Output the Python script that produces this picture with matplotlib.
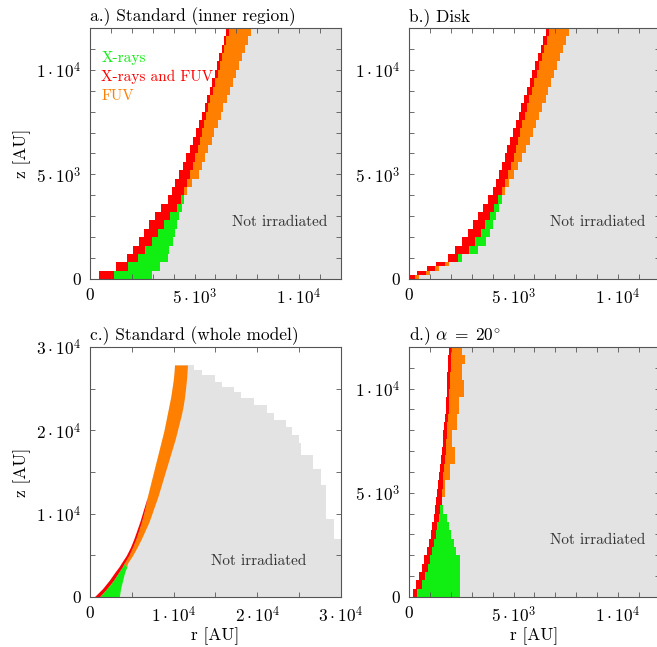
import numpy as np
import matplotlib

matplotlib.use("Agg")
import matplotlib.pyplot as plt
from matplotlib.ticker import MultipleLocator, FuncFormatter

plt.rcParams["font.family"] = "cmr10"
plt.rcParams["mathtext.fontset"] = "cm"
plt.rcParams["axes.unicode_minus"] = False
plt.rcParams["axes.formatter.use_mathtext"] = True

COLORS = {
    "xray": "#11ee11",
    "both": "#ff0000",
    "fuv": "#ff7f00",
    "dark": "#e3e3e3",
    "spine": "#555555",
    "text": "#333333",
}

# ---- a.) Standard (inner region): rows of 400 AU in z ----
a_z = np.arange(0, 12001, 400)
a_r_in = [450, 1250, 1750, 2060, 2330, 2590, 2840, 3100, 3380, 3720,
          3900, 4080, 4250, 4430, 4600, 4780, 4940, 5080, 5210, 5350,
          5480, 5610, 5740, 5850, 5960, 6070, 6180, 6290, 6400, 6510]
a_r_red = [1150, 1800, 2310, 2650, 2960, 3260, 3550, 3830, 4150, 4370,
           4500, 4650, 4785, 4920, 5040, 5150, 5260, 5360, 5460, 5560,
           5660, 5760, 5900, 6000, 6100, 6200, 6310, 6410, 6520, 6640]
a_r_xray = [2950, 3330, 3730, 3800, 3950, 4050, 4150, 4250, 4400, 4480,
            4500, 4650, 4785, 4920, 5040, 5150, 5260, 5360, 5460, 5560,
            5660, 5760, 5900, 6000, 6100, 6200, 6310, 6410, 6520, 6640]
a_r_fuv = [2950, 3330, 3730, 3800, 3950, 4050, 4150, 4250, 4400, 4480,
           4650, 4900, 5230, 5370, 5520, 5660, 5810, 5950, 6100, 6240,
           6380, 6530, 6670, 6820, 6960, 7100, 7250, 7390, 7540, 7680]

# ---- b.) Disk: finer rows near the midplane ----
b_z = np.array([0, 200, 400, 600] + list(range(800, 12001, 400)))
b_r_in = [0, 400, 850, 1300, 1850, 2200, 2520, 2800, 3050, 3300,
          3550, 3800, 4000, 4170, 4300, 4450, 4580, 4710, 4840, 4970,
          5100, 5240, 5370, 5500, 5640, 5770, 5900, 6030, 6170, 6300,
          6430, 6560]
b_r_red = [300, 800, 1250, 1700, 2350, 2850, 3150, 3430, 3650, 3850,
           4050, 4280, 4450, 4600, 4750, 4880, 5000, 5100, 5200, 5310,
           5420, 5530, 5640, 5760, 5880, 6000, 6110, 6230, 6350, 6460,
           6580, 6700]
b_r_xray = [300, 800, 1250, 1700, 2550, 3300, 3700, 3850, 4000, 4150,
            4300, 4450, 4450, 4600, 4750, 4880, 5000, 5100, 5200, 5310,
            5420, 5530, 5640, 5760, 5880, 6000, 6110, 6230, 6350, 6460,
            6580, 6700]
b_r_fuv = [500, 1000, 1450, 1900, 2550, 3300, 3700, 3850, 4000, 4150,
           4300, 4450, 4600, 4800, 5000, 5220, 5420, 5600, 5770, 5930,
           6080, 6230, 6380, 6530, 6670, 6810, 6950, 7090, 7230, 7370,
           7500, 7640]

# ---- c.) Standard (whole model) ----
# band boundaries sampled at these heights
c_z = [0, 1000, 2000, 3000, 3600, 4000, 5000, 6000, 7000, 8000,
       9000, 10000, 11000, 12000, 13000, 14000, 15000, 16000, 17000, 18000,
       19000, 20000, 21000, 22000, 23000, 24000, 25000, 26000, 27000, 27840]
c_r_in = [500, 1500, 2300, 3000, 3450, 3700, 4350, 4850, 5250, 5600,
          5950, 6250, 6550, 6850, 7100, 7350, 7600, 7850, 8100, 8350,
          8600, 8850, 9050, 9250, 9450, 9650, 9800, 9950, 10050, 10100]
c_r_red = [1100, 2000, 2800, 3450, 3850, 4050, 4650, 5100, 5500, 5830,
           6150, 6420, 6650, 6850, 7100, 7350, 7600, 7850, 8100, 8350,
           8600, 8850, 9050, 9250, 9450, 9650, 9800, 9950, 10050, 10100]
c_r_xray = [3500, 3650, 3900, 4150, 4400, 4050, 4650, 5100, 5500, 5830,
            6150, 6420, 6650, 6850, 7100, 7350, 7600, 7850, 8100, 8350,
            8600, 8850, 9050, 9250, 9450, 9650, 9800, 9950, 10050, 10100]
c_r_fuv = [3500, 3650, 3900, 4150, 4400, 4450, 5100, 5650, 6150, 6600,
           7050, 7400, 7750, 8100, 8400, 8700, 9000, 9300, 9600, 9900,
           10200, 10450, 10700, 10950, 11150, 11300, 11420, 11520, 11600, 11650]
# outer edge of the model grid (rows between these heights)
c_edge_z = [0, 6960, 9400, 13400, 15400, 17000, 18440, 19440, 20440, 21240,
            22040, 23040, 23840, 24640, 25240, 25840, 26640, 27240, 27840]
c_r_edge = [31000, 29200, 28200, 27600, 26600, 25200, 25000, 24200, 23400,
            22000, 21200, 19600, 18000, 17200, 15800, 15000, 13400, 12400]

# ---- d.) alpha = 20 deg: rows of 400 AU ----
d_z = np.arange(0, 12001, 400)
d_r_in = [180, 340, 480, 600, 730, 850, 950, 1030, 1110, 1180,
          1240, 1300, 1350, 1400, 1450, 1500, 1540, 1580, 1620, 1650,
          1690, 1720, 1750, 1780, 1800, 1820, 1840, 1860, 1880, 1890]
d_r_red = [400, 620, 760, 890, 1000, 1090, 1180, 1270, 1350, 1420,
           1500, 1560, 1590, 1610, 1650, 1690, 1720, 1750, 1780, 1810,
           1840, 1860, 1890, 1910, 1930, 1950, 1970, 1990, 2000, 2020]
d_r_xray = [2450, 2450, 2450, 2450, 2450, 2260, 2130, 2000, 1890, 1800,
            1620, 1560, 1590, 1610, 1650, 1690, 1720, 1750, 1780, 1810,
            1840, 1860, 1890, 1910, 1930, 1950, 1970, 1990, 2000, 2020]
d_r_fuv = [2450, 2450, 2450, 2450, 2450, 2260, 2130, 2000, 1890, 1800,
           1620, 1560, 1730, 1730, 1970, 1970, 2210, 2210, 2050, 2050,
           2290, 2290, 2370, 2370, 2610, 2610, 2530, 2530, 2690, 2530]

TITLES = ["a.) Standard (inner region)", "b.) Disk",
          "c.) Standard (whole model)", r"d.) $\alpha\;=\;20^{\circ}$"]
LEGEND = [("X-rays", "xray"), ("X-rays and FUV", "both"), ("FUV", "fuv")]
LABEL_POS = [(0.757, 0.227), (0.753, 0.227), (0.673, 0.144), (0.753, 0.228)]


def sci_label(v, pos):
    if abs(v) < 1e-9:
        return r"$0$"
    if v < 0:
        return ""
    e = int(np.floor(np.log10(v) + 1e-9))
    m = v / 10**e
    return r"$%g\cdot 10^{%d}$" % (m, e)


def ext(a):
    a = np.asarray(a, dtype=float)
    return np.append(a, a[-1])


def draw_rows(ax, z, r_in, r_red, r_xray, r_fuv):
    """Cell rows: grey beyond the bands, stepped boundaries."""
    kw = dict(step="post", linewidth=0)
    ax.fill_betweenx(z, ext(r_fuv), 13000, color=COLORS["dark"], **kw)
    ax.fill_betweenx(z, ext(r_xray), ext(r_fuv), color=COLORS["fuv"], **kw)
    ax.fill_betweenx(z, ext(r_red), ext(r_xray), color=COLORS["xray"], **kw)
    ax.fill_betweenx(z, ext(r_in), ext(r_red), color=COLORS["both"], **kw)


def draw_whole(ax):
    ax.fill_betweenx(c_edge_z, 0, ext(c_r_edge), step="post",
                     color=COLORS["dark"], linewidth=0)
    # clear the cavity (reaches a little above the grid so no grey seam shows)
    ax.fill_betweenx(c_z + [31000], 0, ext(c_r_in), color="white", linewidth=0)
    ax.fill_betweenx(c_z, c_r_xray, c_r_fuv, color=COLORS["fuv"], linewidth=0)
    ax.fill_betweenx(c_z, c_r_red, c_r_xray, color=COLORS["xray"], linewidth=0)
    ax.fill_betweenx(c_z, c_r_in, c_r_red, color=COLORS["both"], linewidth=0)


def style_axes(ax, lim, major, minor):
    ax.set_xlim(0, lim)
    ax.set_ylim(0, lim)
    for a in (ax.xaxis, ax.yaxis):
        a.set_major_locator(MultipleLocator(major))
        a.set_minor_locator(MultipleLocator(minor))
        a.set_major_formatter(FuncFormatter(sci_label))
    ax.tick_params(which="both", direction="in", top=True, right=True,
                   length=3.5, width=0.6, color=COLORS["spine"],
                   labelsize=12.5, pad=6)
    for s in ax.spines.values():
        s.set_color(COLORS["spine"])
        s.set_linewidth(0.8)
        s.set_zorder(5)


fig = plt.figure(figsize=(6.57, 6.47), dpi=100)
positions = [
    [0.137, 0.5688, 0.382, 0.388],
    [0.6225, 0.5688, 0.382, 0.388],
    [0.137, 0.0773, 0.382, 0.3864],
    [0.6225, 0.0773, 0.382, 0.3864],
]
limits = [(12000, 5000, 1000), (12000, 5000, 1000),
          (30000, 10000, 5000), (12000, 5000, 1000)]

axes = [fig.add_axes(p) for p in positions]
draw_rows(axes[0], a_z, a_r_in, a_r_red, a_r_xray, a_r_fuv)
draw_rows(axes[1], b_z, b_r_in, b_r_red, b_r_xray, b_r_fuv)
draw_whole(axes[2])
draw_rows(axes[3], d_z, d_r_in, d_r_red, d_r_xray, d_r_fuv)

for i, ax in enumerate(axes):
    style_axes(ax, *limits[i])
    ax.set_title(TITLES[i], loc="left", fontsize=12.5, pad=5)
    ax.text(*LABEL_POS[i], "Not irradiated", transform=ax.transAxes,
            ha="center", va="center", fontsize=11, color=COLORS["text"])
    if i in (0, 2):
        ax.set_ylabel("z [AU]", fontsize=12.5, labelpad=4)
    if i in (2, 3):
        ax.set_xlabel("r [AU]", fontsize=12.5, labelpad=1)

for k, (label, key) in enumerate(LEGEND):
    axes[0].text(0.045, 0.88 - k * 0.075, label, transform=axes[0].transAxes,
                 ha="left", va="center", fontsize=11, color=COLORS[key])

fig.savefig("out.png", dpi=100)
